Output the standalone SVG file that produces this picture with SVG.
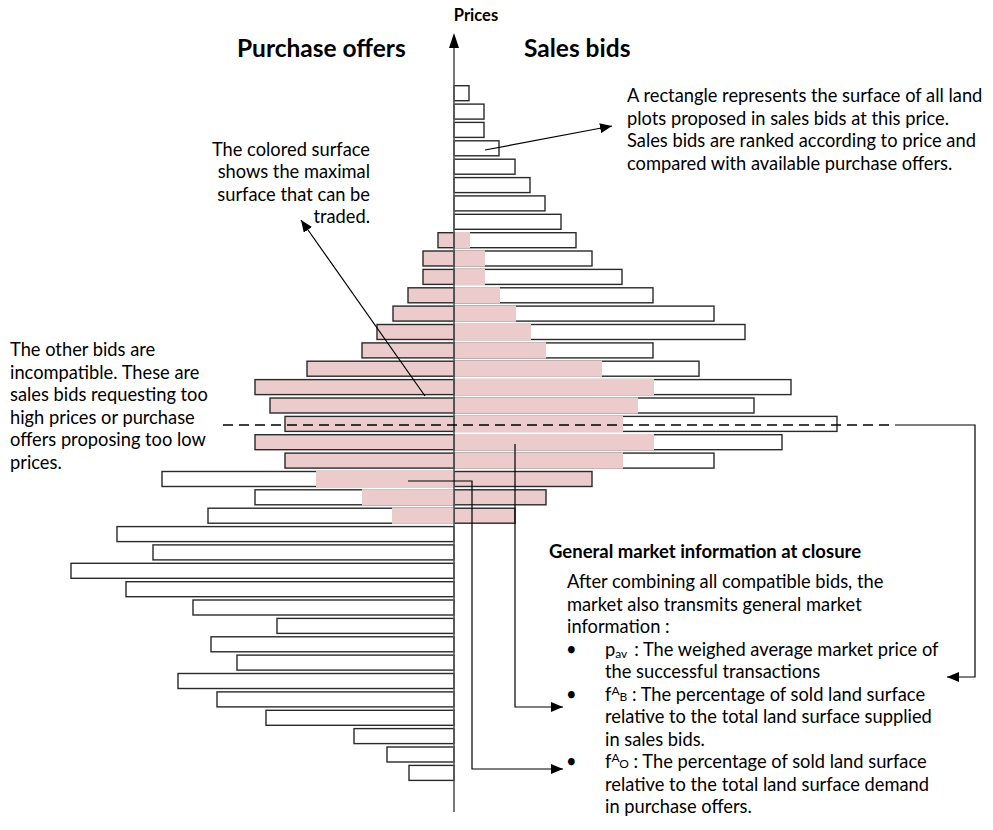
<svg xmlns="http://www.w3.org/2000/svg" width="993" height="830" viewBox="0 0 993 830">
  <style>
    .bar { fill: #ffffff; stroke: #2a2a2a; stroke-width: 1.4; }
    .bar-pink { fill: #ebcbcb; stroke: #2a2a2a; stroke-width: 1.4; }
    .pink { fill: #ebcbcb; stroke: none; }
    .axis { stroke: #555555; stroke-width: 1.6; fill: none; }
    .conn { stroke: #000000; stroke-width: 1.2; fill: none; }
    .dash { stroke: #000000; stroke-width: 1.4; fill: none; stroke-dasharray: 10 6; }
    .t { font-family: Lato, "Liberation Sans", sans-serif; font-size: 18.3px; fill: #000000; }
    .h { font-family: Lato, "Liberation Sans", sans-serif; font-weight: bold; fill: #000000; }
    .sm { font-size: 12px; }
  </style>
  <defs>
    <marker id="arrow" viewBox="0 0 12 10" refX="12" refY="5" markerWidth="12" markerHeight="10" markerUnits="userSpaceOnUse" orient="auto">
      <path d="M0,0 L12,5 L0,10 Z" fill="#000000"/>
    </marker>
  </defs>

  <rect width="993" height="830" fill="#ffffff"/>

  <!-- Sales bids (right of the price axis) -->
  <g id="sales-bids">
    <rect class="bar" x="454" y="85.7" width="15" height="15"/>
    <rect class="bar" x="454" y="104.1" width="30" height="15"/>
    <rect class="bar" x="454" y="122.4" width="30" height="15"/>
    <rect class="bar" x="454" y="140.8" width="45" height="15"/>
    <rect class="bar" x="454" y="159.2" width="61" height="15"/>
    <rect class="bar" x="454" y="177.6" width="76" height="15"/>
    <rect class="bar" x="454" y="195.9" width="91" height="15"/>
    <rect class="bar" x="454" y="214.3" width="107" height="15"/>
    <rect class="bar" x="454" y="232.7" width="122" height="15"/>
    <rect class="bar" x="454" y="251.0" width="138" height="15"/>
    <rect class="bar" x="454" y="269.4" width="168" height="15"/>
    <rect class="bar" x="454" y="287.8" width="199" height="15"/>
    <rect class="bar" x="454" y="306.1" width="260" height="15"/>
    <rect class="bar" x="454" y="324.5" width="291" height="15"/>
    <rect class="bar" x="454" y="342.9" width="199" height="15"/>
    <rect class="bar" x="454" y="361.2" width="245" height="15"/>
    <rect class="bar" x="454" y="379.6" width="337" height="15"/>
    <rect class="bar" x="454" y="398.0" width="300" height="15"/>
    <rect class="bar" x="454" y="416.4" width="383" height="15"/>
    <rect class="bar" x="454" y="434.7" width="328" height="15"/>
    <rect class="bar" x="454" y="453.1" width="260" height="15"/>
    <rect class="bar-pink" x="454" y="471.5" width="138" height="15"/>
    <rect class="bar-pink" x="454" y="489.8" width="92" height="15"/>
    <rect class="bar-pink" x="454" y="508.2" width="61" height="15"/>
    <!-- traded share of each sales bid -->
    <rect class="pink" x="454.7" y="232.0" width="15.3" height="16.4"/>
    <rect class="pink" x="454.7" y="250.3" width="30.3" height="16.4"/>
    <rect class="pink" x="454.7" y="268.7" width="30.3" height="16.4"/>
    <rect class="pink" x="454.7" y="287.1" width="45.3" height="16.4"/>
    <rect class="pink" x="454.7" y="305.4" width="61.3" height="16.4"/>
    <rect class="pink" x="454.7" y="323.8" width="76.3" height="16.4"/>
    <rect class="pink" x="454.7" y="342.2" width="91.3" height="16.4"/>
    <rect class="pink" x="454.7" y="360.5" width="147.3" height="16.4"/>
    <rect class="pink" x="454.7" y="378.9" width="199.3" height="16.4"/>
    <rect class="pink" x="454.7" y="397.3" width="183.3" height="16.4"/>
    <rect class="pink" x="454.7" y="415.7" width="168.3" height="16.4"/>
    <rect class="pink" x="454.7" y="434.0" width="199.3" height="16.4"/>
    <rect class="pink" x="454.7" y="452.4" width="168.3" height="16.4"/>
  </g>

  <!-- Purchase offers (left of the price axis) -->
  <g id="purchase-offers">
    <rect class="bar-pink" x="438" y="232.7" width="16" height="15"/>
    <rect class="bar-pink" x="423" y="251.0" width="31" height="15"/>
    <rect class="bar-pink" x="423" y="269.4" width="31" height="15"/>
    <rect class="bar-pink" x="408" y="287.8" width="46" height="15"/>
    <rect class="bar-pink" x="393" y="306.1" width="61" height="15"/>
    <rect class="bar-pink" x="377" y="324.5" width="77" height="15"/>
    <rect class="bar-pink" x="362" y="342.9" width="92" height="15"/>
    <rect class="bar-pink" x="307" y="361.2" width="147" height="15"/>
    <rect class="bar-pink" x="255" y="379.6" width="199" height="15"/>
    <rect class="bar-pink" x="270" y="398.0" width="184" height="15"/>
    <rect class="bar-pink" x="285" y="416.4" width="169" height="15"/>
    <rect class="bar-pink" x="255" y="434.7" width="199" height="15"/>
    <rect class="bar-pink" x="285" y="453.1" width="169" height="15"/>
    <rect class="bar" x="162" y="471.5" width="292" height="15"/>
    <rect class="bar" x="255" y="489.8" width="199" height="15"/>
    <rect class="bar" x="208" y="508.2" width="246" height="15"/>
    <rect class="bar" x="117" y="526.6" width="337" height="15"/>
    <rect class="bar" x="153" y="544.9" width="301" height="15"/>
    <rect class="bar" x="71" y="563.3" width="383" height="15"/>
    <rect class="bar" x="126" y="581.7" width="328" height="15"/>
    <rect class="bar" x="193" y="600.0" width="261" height="15"/>
    <rect class="bar" x="277" y="618.4" width="177" height="15"/>
    <rect class="bar" x="211" y="636.8" width="243" height="15"/>
    <rect class="bar" x="237" y="655.1" width="217" height="15"/>
    <rect class="bar" x="178" y="673.5" width="276" height="15"/>
    <rect class="bar" x="217" y="691.9" width="237" height="15"/>
    <rect class="bar" x="266" y="710.3" width="188" height="15"/>
    <rect class="bar" x="354" y="728.6" width="100" height="15"/>
    <rect class="bar" x="387" y="747.0" width="67" height="15"/>
    <rect class="bar" x="409" y="765.4" width="45" height="15"/>
    <!-- traded share of the partly matched offers -->
    <rect class="pink" x="316" y="470.8" width="138" height="16.4"/>
    <rect class="pink" x="362" y="489.1" width="92" height="16.4"/>
    <rect class="pink" x="392" y="507.5" width="62" height="16.4"/>
  </g>

  <!-- Price axis -->
  <g id="price-axis">
    <line class="axis" x1="454" y1="44" x2="454" y2="812"/>
    <path d="M454,33 L459,48 L449,48 Z" fill="#000000"/>
    <text class="h" x="476" y="21" font-size="16.5" text-anchor="middle">Prices</text>
  </g>

  <g id="headings">
    <text class="h" x="237" y="57" font-size="24.5">Purchase offers</text>
    <text class="h" x="524" y="57" font-size="24.5">Sales bids</text>
  </g>

  <!-- Connectors -->
  <g id="connectors">
    <path class="conn" d="M485,150 L612,126" marker-end="url(#arrow)"/>
    <path class="conn" d="M425,396 L301,220" marker-end="url(#arrow)"/>
    <path class="dash" d="M223,425 H895"/>
    <path class="conn" d="M895,425 H975 V677 H947" marker-end="url(#arrow)"/>
    <path class="conn" d="M515,444 V707 H563" marker-end="url(#arrow)"/>
    <path class="conn" d="M408,481 H472 V769 H563" marker-end="url(#arrow)"/>
  </g>

  <g id="note-rectangle">
    <text class="t" x="627" y="102">A rectangle represents the surface of all land</text>
    <text class="t" x="627" y="124.5">plots proposed in sales bids at this price.</text>
    <text class="t" x="627" y="147">Sales bids are ranked according to price and</text>
    <text class="t" x="627" y="169.5">compared with available purchase offers.</text>
  </g>

  <g id="note-colored">
    <text class="t" x="370" y="155.5" text-anchor="end">The colored surface</text>
    <text class="t" x="370" y="178" text-anchor="end">shows the maximal</text>
    <text class="t" x="370" y="200.5" text-anchor="end">surface that can be</text>
    <text class="t" x="370" y="223" text-anchor="end">traded.</text>
  </g>

  <g id="note-incompatible">
    <text class="t" x="10" y="356">The other bids are</text>
    <text class="t" x="10" y="378.5">incompatible. These are</text>
    <text class="t" x="10" y="401">sales bids requesting too</text>
    <text class="t" x="10" y="423.5">high prices or purchase</text>
    <text class="t" x="10" y="446">offers proposing too low</text>
    <text class="t" x="10" y="468.5">prices.</text>
  </g>

  <g id="market-info">
    <text class="h" x="549" y="558" font-size="18.5">General market information at closure</text>
    <text class="t" x="567" y="588">After combining all compatible bids, the</text>
    <text class="t" x="567" y="610.5">market also transmits general market</text>
    <text class="t" x="567" y="633">information :</text>
    <text class="t" x="566" y="655.5">•</text>
    <text class="t" x="605" y="655.5">p<tspan class="sm" dy="2">av</tspan><tspan dx="7" dy="-2">: The weighed average market price of</tspan></text>
    <text class="t" x="605" y="678">the successful transactions</text>
    <text class="t" x="566" y="700.5">•</text>
    <text class="t" x="605" y="700.5">f<tspan class="sm" dy="-6">A</tspan><tspan class="sm" dy="6">B</tspan> : The percentage of sold land surface</text>
    <text class="t" x="605" y="723">relative to the total land surface supplied</text>
    <text class="t" x="605" y="745.5">in sales bids.</text>
    <text class="t" x="566" y="768">•</text>
    <text class="t" x="605" y="768">f<tspan class="sm" dy="-6">A</tspan><tspan class="sm" dy="6">O</tspan> : The percentage of sold land surface</text>
    <text class="t" x="605" y="790.5">relative to the total land surface demand</text>
    <text class="t" x="605" y="813">in purchase offers.</text>
  </g>
</svg>
